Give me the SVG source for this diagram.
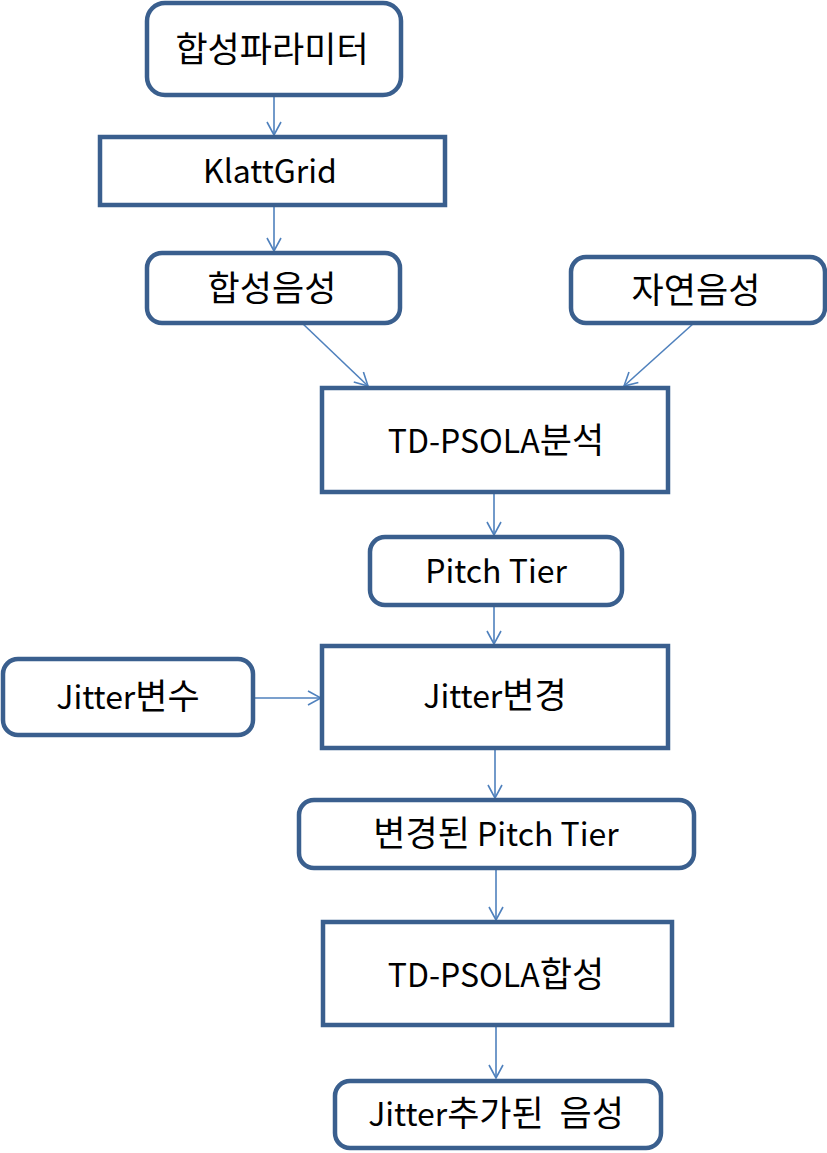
<svg xmlns="http://www.w3.org/2000/svg" width="827" height="1153" viewBox="0 0 827 1153">
<defs>
<style>
.box{fill:#fff;stroke:#3A5F8E;stroke-width:4.5}
.t{font-family:"Noto Sans CJK KR","Noto Sans",sans-serif;font-size:32px;fill:#000;text-anchor:middle}
.k{font-size:35px}
.c{fill:none;stroke:#4F81BD;stroke-width:1.6}
</style>
<marker id="ah" markerUnits="userSpaceOnUse" markerWidth="16" markerHeight="16" viewBox="0 0 16 16" refX="15" refY="8" orient="auto">
<path d="M2,1 L15,8 L2,15" fill="none" stroke="#4F81BD" stroke-width="1.6"/>
</marker>
</defs>
<rect width="827" height="1153" fill="#fff"/>
<g id="connectors">
<line class="c" x1="274" y1="97" x2="274" y2="135" marker-end="url(#ah)"/>
<line class="c" x1="274" y1="205" x2="274" y2="251" marker-end="url(#ah)"/>
<line class="c" x1="302" y1="323" x2="368" y2="386" marker-end="url(#ah)"/>
<line class="c" x1="694" y1="323" x2="624" y2="386" marker-end="url(#ah)"/>
<line class="c" x1="494" y1="492" x2="494" y2="535" marker-end="url(#ah)"/>
<line class="c" x1="494" y1="605" x2="494" y2="644" marker-end="url(#ah)"/>
<line class="c" x1="253" y1="698" x2="321" y2="698" marker-end="url(#ah)"/>
<line class="c" x1="495" y1="748" x2="495" y2="798" marker-end="url(#ah)"/>
<line class="c" x1="496" y1="868" x2="496" y2="920" marker-end="url(#ah)"/>
<line class="c" x1="496" y1="1025" x2="496" y2="1078" marker-end="url(#ah)"/>
</g>
<g id="n1"><rect class="box" x="147" y="3" width="254" height="92" rx="18"/><text class="t k" x="272" y="62">합성파라미터</text></g>
<g id="n2"><rect class="box" x="100" y="137" width="345" height="68"/><text class="t" x="270" y="183">KlattGrid</text></g>
<g id="n3"><rect class="box" x="147" y="253" width="253" height="70" rx="15"/><text class="t k" x="272" y="301">합성음성</text></g>
<g id="n4"><rect class="box" x="571" y="257" width="254" height="66" rx="15"/><text class="t k" x="696" y="303">자연음성</text></g>
<g id="n5"><rect class="box" x="322" y="388" width="346" height="104"/><text class="t" x="496" y="453">TD-PSOLA<tspan class="k">분석</tspan></text></g>
<g id="n6"><rect class="box" x="370" y="537" width="252" height="68" rx="15"/><text class="t" x="496" y="583">Pitch Tier</text></g>
<g id="n7"><rect class="box" x="3" y="659" width="250" height="76" rx="15"/><text class="t" x="128" y="709">Jitter<tspan class="k">변수</tspan></text></g>
<g id="n8"><rect class="box" x="322" y="646" width="346" height="102"/><text class="t" x="495" y="708">Jitter<tspan class="k">변경</tspan></text></g>
<g id="n9"><rect class="box" x="299" y="800" width="395" height="68" rx="15"/><text class="t" x="496" y="846"><tspan class="k">변경된</tspan> Pitch Tier</text></g>
<g id="n10"><rect class="box" x="323" y="922" width="349" height="103"/><text class="t" x="496" y="987">TD-PSOLA<tspan class="k">합성</tspan></text></g>
<g id="n11"><rect class="box" x="335" y="1081" width="326" height="67" rx="15"/><text class="t" x="496" y="1126" xml:space="preserve">Jitter<tspan class="k">추가된  음성</tspan></text></g>
</svg>
